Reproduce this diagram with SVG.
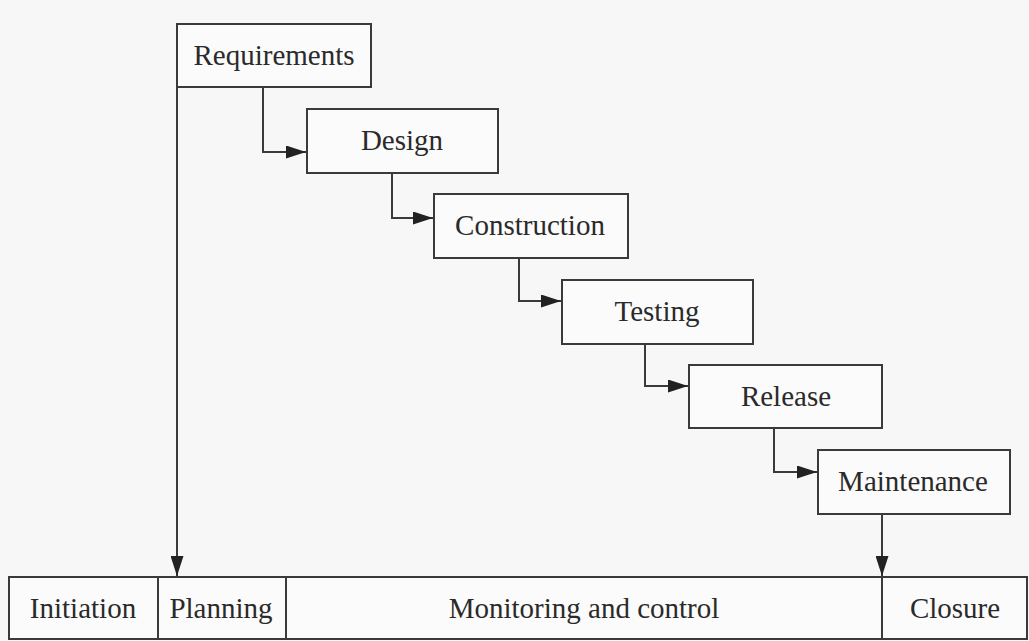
<svg xmlns="http://www.w3.org/2000/svg" width="1029" height="641" viewBox="0 0 1029 641">
<style>
.box{fill:#fbfbfb;stroke:#3a3a3a;stroke-width:2}
.lbl{font-family:"Liberation Serif","DejaVu Serif",serif;font-size:29px;fill:#2a2a2a;text-anchor:middle}
.con{fill:none;stroke:#3a3a3a;stroke-width:2}
</style>
<defs>
<marker id="ah" markerUnits="userSpaceOnUse" markerWidth="20" markerHeight="13" refX="20" refY="6.5" orient="auto">
<path d="M0,0 L20,6.5 L0,13 z" fill="#222"/>
</marker>
</defs>
<rect x="0" y="0" width="1029" height="641" fill="#f7f7f7"/>
<g id="requirements"><rect class="box" x="177" y="24" width="194" height="63"/><text class="lbl" x="274" y="65">Requirements</text></g>
<g id="design"><rect class="box" x="307" y="109" width="191" height="64"/><text class="lbl" x="402" y="150">Design</text></g>
<g id="construction"><rect class="box" x="434" y="194" width="194" height="64"/><text class="lbl" x="530" y="235">Construction</text></g>
<g id="testing"><rect class="box" x="562" y="280" width="191" height="64"/><text class="lbl" x="657" y="321">Testing</text></g>
<g id="release"><rect class="box" x="689" y="365" width="193" height="63"/><text class="lbl" x="786" y="406">Release</text></g>
<g id="maintenance"><rect class="box" x="818" y="450" width="192" height="64"/><text class="lbl" x="913" y="491">Maintenance</text></g>
<g id="phases">
<rect class="box" x="9" y="577" width="1018" height="62"/>
<line class="con" x1="158" y1="577" x2="158" y2="639"/>
<line class="con" x1="286" y1="577" x2="286" y2="639"/>
<line class="con" x1="882" y1="577" x2="882" y2="639"/>
<text class="lbl" x="83" y="618">Initiation</text>
<text class="lbl" x="221" y="618">Planning</text>
<text class="lbl" x="584" y="618">Monitoring and control</text>
<text class="lbl" x="955" y="618">Closure</text>
</g>
<g id="connectors">
<path class="con" d="M263,87 V152 H306" marker-end="url(#ah)"/>
<path class="con" d="M392,173 V218 H433" marker-end="url(#ah)"/>
<path class="con" d="M519,258 V301 H561" marker-end="url(#ah)"/>
<path class="con" d="M645,344 V386 H688" marker-end="url(#ah)"/>
<path class="con" d="M774,428 V472 H817" marker-end="url(#ah)"/>
<path class="con" d="M177,87 V576" marker-end="url(#ah)"/>
<path class="con" d="M882,514 V576" marker-end="url(#ah)"/>
</g>
</svg>
